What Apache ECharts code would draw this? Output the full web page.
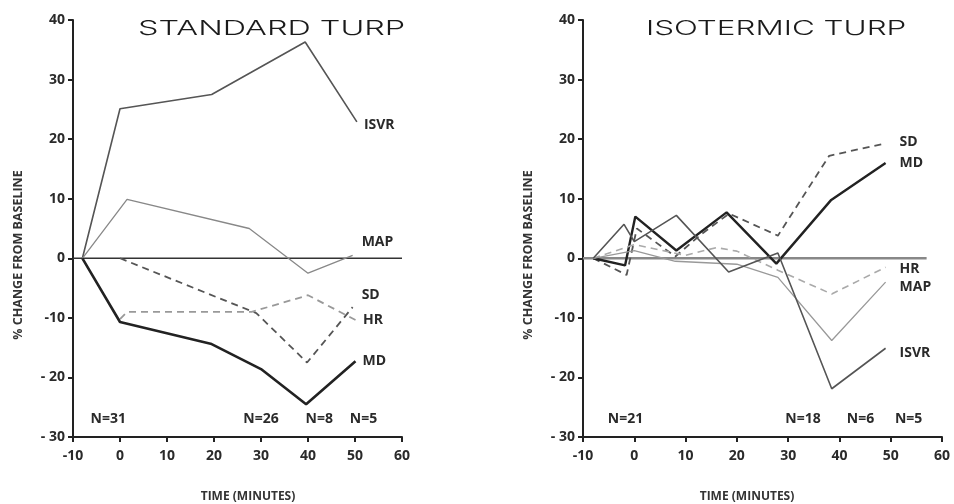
<!DOCTYPE html>
<html><head><meta charset="utf-8">
<script src="https://cdn.jsdelivr.net/npm/echarts@6/dist/echarts.min.js"></script>
<style>html,body{margin:0;padding:0;background:#fff}#c{width:954px;height:504px}</style>
</head><body><div id="c"></div>
<script>
// ---- data (x = time in minutes, y = % change from baseline) ----
const xTickValues = [-10, 0, 10, 20, 30, 40, 50, 60];
const yTickValues = [-30, -20, -10, 0, 10, 20, 30, 40];
const yTickLabels = ['- 30', '- 20', '-10', '0', '10', '20', '30', '40'];

const stdISVR = [[-8, 0], [0, 25.1], [19.5, 27.5], [39.4, 36.3], [50.4, 22.9]];
const stdMAP  = [[-8, 0], [1.5, 9.9], [27.5, 5], [40, -2.5], [49.5, 0.5]];
const stdSD   = [[0, 0], [29, -9.2], [39.8, -17.5], [49.5, -8.2]];
const stdHR   = [[0, -10.2], [1.5, -9], [28, -9], [40, -6.2], [50.2, -10.4]];
const stdMD   = [[-8, 0], [0, -10.7], [19.5, -14.4], [30, -18.6], [39.6, -24.5], [50.1, -17.3]];
const stdBaseline = [[-10, 0], [60, 0]];
const stdNX = [-2.5, 30, 42.4, 51.8];
const stdNText = ['N=31', 'N=26', 'N=8', 'N=5'];

const isoSD   = [[-8, 0], [-1.5, -2.8], [0.5, 5], [8, 0.3], [13, 4], [18.5, 7.5], [28, 3.8], [38, 17.2], [49, 19.3]];
const isoMD   = [[-8, 0], [-1.8, -1.2], [0.2, 7], [8.2, 1.3], [18, 7.7], [27.7, -0.9], [38.4, 9.8], [49, 16]];
const isoHR   = [[-8, 0], [0, 2.3], [10, 0.5], [16, 1.8], [20, 1.2], [28, -2], [38.5, -6], [49, -1.5]];
const isoMAP  = [[-8, 0], [0, 1.3], [8, -0.5], [20, -1], [28, -3.2], [38.5, -13.8], [49, -4]];
const isoISVR = [[-8, 0], [-2, 5.7], [0, 2.8], [8.2, 7.2], [18.4, -2.3], [28, 0.9], [38.5, -21.9], [49, -15.1]];
const isoBaseline = [[-10, 0], [57, 0]];
const isoNX = [-1.7, 32.9, 44.1, 53.5];
const isoNText = ['N=21', 'N=18', 'N=6', 'N=5'];
const nRowY = -27;

const titles = ['STANDARD TURP', 'ISOTERMIC TURP'];
const yTitle = '% CHANGE FROM BASELINE';
const xTitle = 'TIME (MINUTES)';

// ---- styling ----
const FONT = '"Open Sans", "DejaVu Sans", sans-serif';
const lblStyle = { fontFamily: FONT, fontWeight: 'bold', fontSize: 14, color: '#2a2a2a' };

function xAx(idx) {
  return {
    gridIndex: idx, type: 'value', min: -10, max: 60, interval: 10,
    axisLine: { onZero: false, lineStyle: { color: '#222', width: 2 } },
    axisTick: { show: true, length: 5, lineStyle: { color: '#222', width: 2 } },
    axisLabel: Object.assign({ margin: 12, formatter: v => String(v) }, lblStyle),
    splitLine: { show: false }
  };
}
function yAx(idx) {
  return {
    gridIndex: idx, type: 'value', min: -30, max: 40, interval: 10,
    axisLine: { show: true, onZero: false, lineStyle: { color: '#222', width: 2 } },
    axisTick: { show: true, length: 5, lineStyle: { color: '#222', width: 2 } },
    axisLabel: Object.assign({ margin: 8, formatter: v => yTickLabels[yTickValues.indexOf(v)] }, lblStyle),
    splitLine: { show: false }
  };
}
function line(idx, name, data, color, width, type, offset) {
  return {
    type: 'line', name, data, xAxisIndex: idx, yAxisIndex: idx,
    symbol: 'none', silent: true, animation: false,
    lineStyle: { color, width, type },
    endLabel: Object.assign({ show: true, formatter: name, distance: 0, offset }, lblStyle),
    z: 3
  };
}
function base(idx, data, color, width) {
  return {
    type: 'line', data, xAxisIndex: idx, yAxisIndex: idx, symbol: 'none',
    silent: true, animation: false, lineStyle: { color, width }, z: 2
  };
}
function nRow(idx, xs, texts) {
  return {
    type: 'scatter', xAxisIndex: idx, yAxisIndex: idx, symbolSize: 1, silent: true, animation: false,
    itemStyle: { opacity: 0 },
    data: xs.map((x, i) => ({ value: [x, nRowY], name: texts[i] })),
    label: Object.assign({ show: true, position: 'inside', opacity: 1, textBorderWidth: 0, formatter: p => p.name }, lblStyle)
  };
}

const titleStyle = { fontFamily: 'Inter, "DejaVu Sans", sans-serif', fontWeight: 300, fontSize: 20, fill: '#1a1a1a', textAlign: 'left', textVerticalAlign: 'middle' };

const chart = echarts.init(document.getElementById('c'), null, { renderer: 'canvas' });
chart.setOption({
  backgroundColor: '#fff',
  animation: false,
  grid: [
    { left: 73, top: 20, width: 329, height: 417 },
    { left: 583, top: 20, width: 359, height: 417 }
  ],
  xAxis: [xAx(0), xAx(1)],
  yAxis: [yAx(0), yAx(1)],
  series: [
    base(0, stdBaseline, '#333', 1.5),
    line(0, 'ISVR', stdISVR, '#555', 1.6, 'solid', [7, 3]),
    line(0, 'MAP', stdMAP, '#888', 1.3, 'solid', [9, -13]),
    line(0, 'SD', stdSD, '#555', 1.8, [7, 5], [9, -12]),
    line(0, 'HR', stdHR, '#999', 1.8, [7, 5], [7, 0]),
    line(0, 'MD', stdMD, '#222', 2.6, 'solid', [7, 0]),
    nRow(0, stdNX, stdNText),

    base(1, isoBaseline, '#888', 2.5),
    line(1, 'SD', isoSD, '#555', 1.8, [7, 5], [14, -1]),
    line(1, 'MD', isoMD, '#222', 2.4, 'solid', [14, 0]),
    line(1, 'HR', isoHR, '#aaa', 1.6, [7, 5], [14, 2]),
    line(1, 'MAP', isoMAP, '#999', 1.3, 'solid', [14, 5]),
    line(1, 'ISVR', isoISVR, '#555', 1.6, 'solid', [14, 5]),
    nRow(1, isoNX, isoNText)
  ],
  graphic: [
    { type: 'text', x: 138, y: 29, scaleX: 1.62, style: Object.assign({ text: titles[0] }, titleStyle) },
    { type: 'text', x: 646, y: 29, scaleX: 1.57, style: Object.assign({ text: titles[1] }, titleStyle) },
    { type: 'text', x: 18, y: 255, rotation: Math.PI / 2, style: { text: yTitle, fontFamily: FONT, fontWeight: 'bold', fontSize: 12.5, fill: '#333', textAlign: 'center', textVerticalAlign: 'middle' } },
    { type: 'text', x: 528, y: 255, rotation: Math.PI / 2, style: { text: yTitle, fontFamily: FONT, fontWeight: 'bold', fontSize: 12.5, fill: '#333', textAlign: 'center', textVerticalAlign: 'middle' } },
    { type: 'text', x: 248, y: 497, style: { text: xTitle, fontFamily: FONT, fontWeight: 'bold', fontSize: 12, fill: '#333', textAlign: 'center', textVerticalAlign: 'middle' } },
    { type: 'text', x: 747, y: 497, style: { text: xTitle, fontFamily: FONT, fontWeight: 'bold', fontSize: 12, fill: '#333', textAlign: 'center', textVerticalAlign: 'middle' } }
  ]
});
</script>
</body></html>
